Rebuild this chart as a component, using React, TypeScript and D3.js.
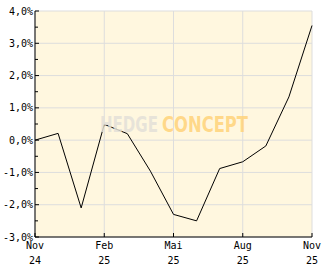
import React from "react";
import * as d3 from "d3";

const months = ["Nov 24","Dez 24","Jan 25","Feb 25","Mär 25","Apr 25","Mai 25","Jun 25","Jul 25","Aug 25","Sep 25","Okt 25","Nov 25"];
const values = [0.0, 0.21, -2.1, 0.49, 0.2, -0.96, -2.3, -2.5, -0.88, -0.67, -0.18, 1.34, 3.55];
const xTickIdx = [0, 3, 6, 9, 12];
const xTickTop = ["Nov", "Feb", "Mai", "Aug", "Nov"];
const xTickBottom = ["24", "25", "25", "25", "25"];
const yTicks = [4, 3, 2, 1, 0, -1, -2, -3];
const yMinor = [3.5, 2.5, 1.5, 0.5, -0.5, -1.5, -2.5];

const W = 332, H = 269;
const L = 35, R = 312, T = 11, B = 237;

export default function App() {
  const x = d3.scaleLinear().domain([0, months.length - 1]).range([L, R]);
  const y = d3.scaleLinear().domain([-3, 4]).range([B, T]);
  const line = d3.line<number>().x((_, i) => x(i)).y(d => y(d));
  const fmt = (v: number) => v.toFixed(1).replace(".", ",") + "%";
  const font = "'DejaVu Sans Mono', monospace";
  return (
    <svg width={W} height={H} style={{ position: "absolute", left: 0, top: 0 }}>
      <rect x={L} y={T} width={R - L} height={B - T} fill="#FFF7DF" />
      {yTicks.map(t => (
        <line key={"gy" + t} x1={L} x2={R} y1={y(t)} y2={y(t)} stroke="#DDDDDD" strokeWidth={1} />
      ))}
      {xTickIdx.map(i => (
        <line key={"gx" + i} x1={x(i)} x2={x(i)} y1={T} y2={B} stroke="#DDDDDD" strokeWidth={1} />
      ))}
      <path d={line(values) || ""} fill="none" stroke="#000" strokeWidth={1} />
      <g fontFamily="'DejaVu Sans', sans-serif" fontWeight="bold" fontSize={22}>
        <text x={100} y={131.5} textLength={58} lengthAdjust="spacingAndGlyphs" fill="#E3E0D8" fillOpacity={0.85}>HEDGE</text>
        <text x={162} y={131.5} textLength={86} lengthAdjust="spacingAndGlyphs" fill="#FFD37A" fillOpacity={0.85}>CONCEPT</text>
      </g>
      <line x1={L} x2={L} y1={T} y2={B} stroke="#000" />
      <line x1={L} x2={R} y1={B} y2={B} stroke="#000" />
      {yTicks.map(t => (
        <line key={"ty" + t} x1={L} x2={L + 4} y1={y(t)} y2={y(t)} stroke="#000" />
      ))}
      {yMinor.map(t => (
        <line key={"tm" + t} x1={L} x2={L + 3} y1={y(t)} y2={y(t)} stroke="#000" />
      ))}
      {xTickIdx.map(i => (
        <line key={"tx" + i} x1={x(i)} x2={x(i)} y1={B} y2={B - 4} stroke="#000" />
      ))}
      <g fontFamily={font} fontSize={10} fill="#000">
        {yTicks.map(t => (
          <text key={"ly" + t} x={L - 2} y={y(t) + 3.5} textAnchor="end">{fmt(t)}</text>
        ))}
        {xTickIdx.map((i, k) => (
          <g key={"lx" + i}>
            <text x={x(i)} y={249} textAnchor="middle">{xTickTop[k]}</text>
            <text x={x(i)} y={264} textAnchor="middle">{xTickBottom[k]}</text>
          </g>
        ))}
      </g>
    </svg>
  );
}
